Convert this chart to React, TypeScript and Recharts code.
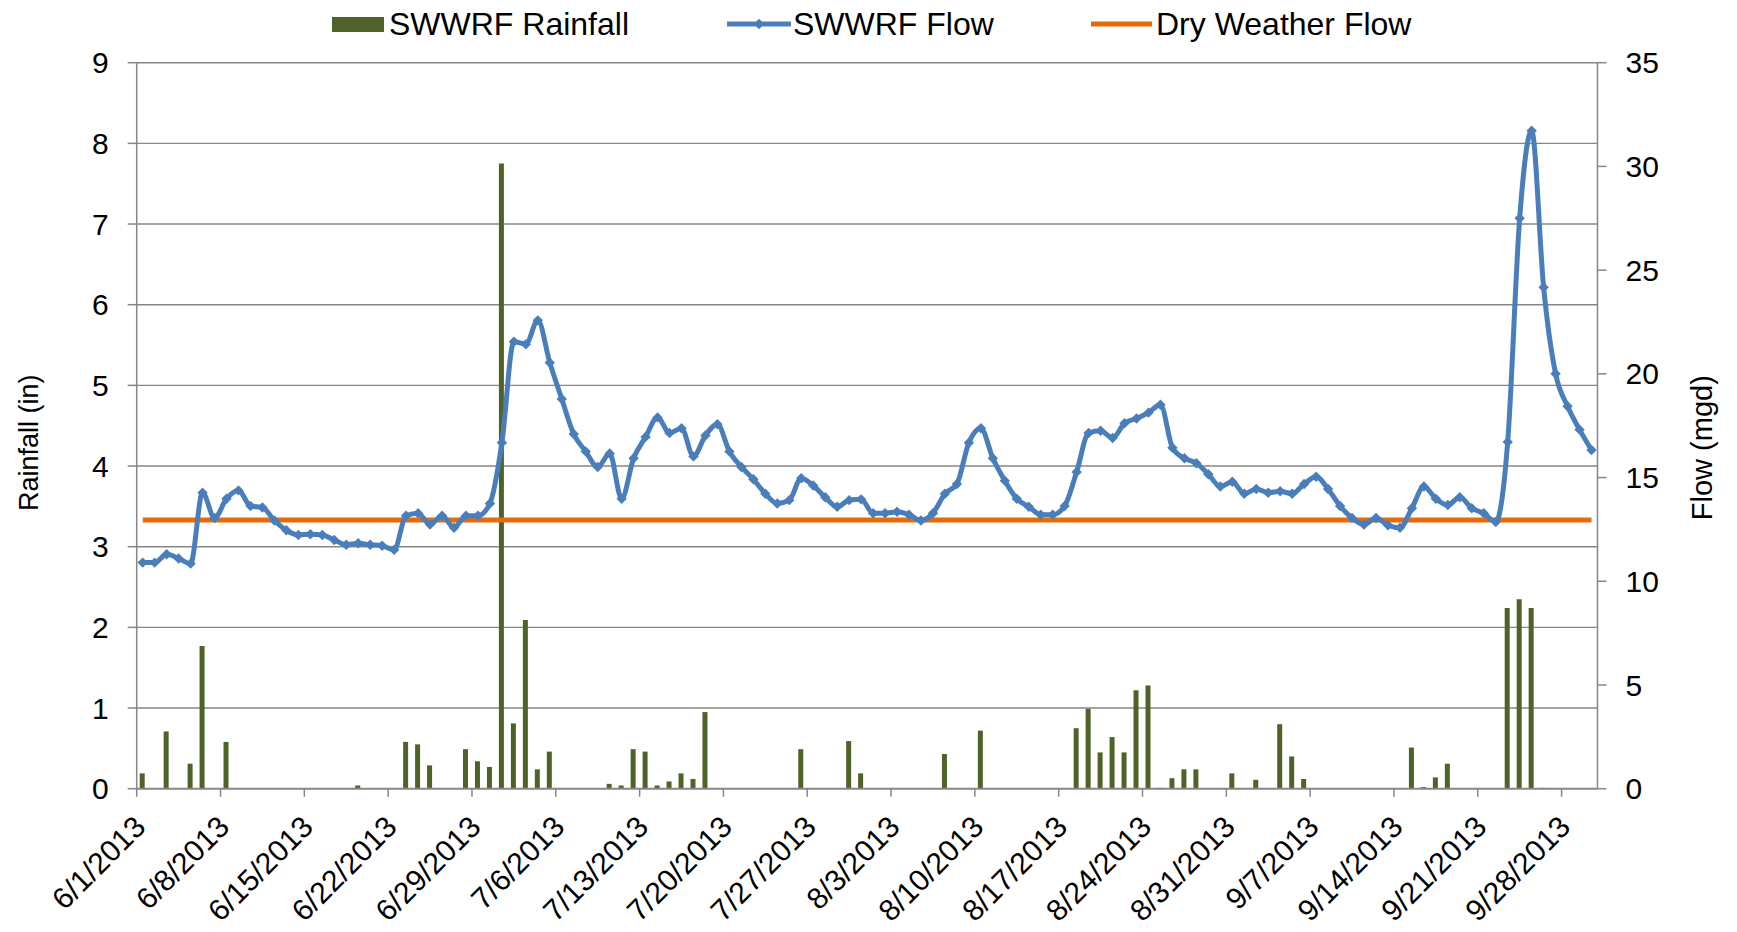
import React from 'react';
import { ComposedChart, Bar, Line, XAxis, YAxis, CartesianGrid, Legend } from 'recharts';

const FONT = '"Liberation Sans", Arial, Helvetica, sans-serif';

// Daily categories 6/1/2013 .. 9/30/2013
const monthLengths = [
  { m: 6, n: 30 },
  { m: 7, n: 31 },
  { m: 8, n: 31 },
  { m: 9, n: 30 },
];
const dates: string[] = [];
monthLengths.forEach(({ m, n }) => {
  for (let d = 1; d <= n; d++) dates.push(`${m}/${d}/2013`);
});

const tickLabels = [
  '6/1/2013', '6/8/2013', '6/15/2013', '6/22/2013', '6/29/2013', '7/6/2013',
  '7/13/2013', '7/20/2013', '7/27/2013', '8/3/2013', '8/10/2013', '8/17/2013',
  '8/24/2013', '8/31/2013', '9/7/2013', '9/14/2013', '9/21/2013', '9/28/2013',
];

// SWWRF Flow (mgd), one value per day
const flow = [
  10.9, 10.9, 11.3, 11.1, 10.85, 14.27, 13.05, 13.98, 14.38, 13.63,
  13.56, 12.93, 12.46, 12.23, 12.27, 12.23, 11.99, 11.76, 11.83, 11.76,
  11.71, 11.52, 13.16, 13.28, 12.74, 13.16, 12.58, 13.16, 13.16, 13.75,
  16.68, 21.55, 21.43, 22.58, 20.54, 18.79, 17.1, 16.26, 15.51, 16.16,
  13.98, 15.93, 16.96, 17.9, 17.15, 17.38, 16.02, 17.03, 17.57, 16.26,
  15.51, 14.92, 14.22, 13.75, 13.91, 14.97, 14.62, 14.05, 13.59, 13.91,
  13.95, 13.28, 13.28, 13.35, 13.21, 12.93, 13.28, 14.22, 14.69, 16.68,
  17.38, 15.93, 14.85, 13.98, 13.59, 13.21, 13.21, 13.63, 15.27, 17.15,
  17.26, 16.91, 17.62, 17.85, 18.13, 18.51, 16.44, 15.93, 15.69, 15.16,
  14.57, 14.8, 14.22, 14.45, 14.27, 14.34, 14.22, 14.69, 15.04, 14.45,
  13.63, 13.05, 12.74, 13.05, 12.7, 12.58, 13.52, 14.57, 13.98, 13.68,
  14.05, 13.52, 13.28, 12.86, 16.72, 27.5, 31.72, 24.17, 20.0, 18.44,
  17.31, 16.33,
];

// SWWRF Rainfall (in), one value per day
const rainfall = [
  0.19, 0, 0.71, 0, 0.31, 1.77, 0, 0.58, 0, 0,
  0, 0, 0, 0, 0, 0, 0, 0, 0.04, 0,
  0, 0, 0.58, 0.55, 0.29, 0, 0, 0.49, 0.34, 0.27,
  7.75, 0.81, 2.09, 0.24, 0.46, 0, 0, 0, 0, 0.06,
  0.04, 0.49, 0.46, 0.04, 0.09, 0.19, 0.12, 0.95, 0, 0,
  0, 0, 0, 0, 0, 0.49, 0, 0, 0, 0.59,
  0.19, 0, 0, 0, 0, 0, 0, 0.43, 0, 0,
  0.72, 0, 0, 0, 0, 0, 0, 0, 0.75, 0.99,
  0.45, 0.64, 0.45, 1.22, 1.28, 0.01, 0.13, 0.24, 0.24, 0,
  0, 0.19, 0, 0.11, 0, 0.8, 0.4, 0.12, 0, 0,
  0, 0, 0, 0, 0, 0, 0.51, 0.02, 0.14, 0.31,
  0, 0, 0, 0, 2.24, 2.35, 2.24, 0.01, 0, 0,
  0, 0,
];

const dryWeatherFlow = 12.95;

const rainTicks = [0, 1, 2, 3, 4, 5, 6, 7, 8, 9];
const flowTicks = [0, 5, 10, 15, 20, 25, 30, 35];

const data = flow.map((f, i) => ({
  x: i + 0.5,
  date: dates[i],
  rain: rainfall[i],
  flow: f,
  dry: dryWeatherFlow,
}));

const xTickValues = tickLabels.map((_, i) => i * 7);

const GREEN = '#4F6228';
const BLUE = '#4A7EBB';
const ORANGE = '#E46C0A';
const GRAY = '#868686';

const XTick = (props: any) => {
  const { x, y, payload } = props;
  const idx = xTickValues.indexOf(payload.value);
  const label = idx >= 0 ? tickLabels[idx] : '';
  const ax = x + 10.5;
  const ay = y + 30;
  return (
    <text
      x={ax}
      y={ay}
      transform={`rotate(-45, ${ax}, ${ay})`}
      textAnchor="end"
      fontSize={30}
      fontFamily={FONT}
      fill="#000"
    >
      {label}
    </text>
  );
};

const Diamond = (p: any) => {
  const { cx, cy, index } = p;
  if (cx == null || cy == null) return <g key={`d-${index}`} />;
  const s = 5.2;
  return (
    <path
      key={`d-${index}`}
      d={`M${cx},${cy - s}L${cx + s},${cy}L${cx},${cy + s}L${cx - s},${cy}Z`}
      fill={BLUE}
      stroke="none"
    />
  );
};

const LegendContent = () => (
  <svg width={1737} height={50} style={{ display: 'block' }}>
    <rect x={332} y={17} width={52} height={15} fill={GREEN} />
    <text x={389} y={35} fontSize={32} fontFamily={FONT} fill="#000">SWWRF Rainfall</text>
    <line x1={727} y1={24} x2={791} y2={24} stroke={BLUE} strokeWidth={5} />
    <path d={`M759,18.8L764.2,24L759,29.2L753.8,24Z`} fill={BLUE} />
    <text x={793} y={35} fontSize={32} fontFamily={FONT} fill="#000">SWWRF Flow</text>
    <line x1={1091} y1={24} x2={1152} y2={24} stroke={ORANGE} strokeWidth={5} />
    <text x={1156} y={35} fontSize={32} fontFamily={FONT} fill="#000">Dry Weather Flow</text>
  </svg>
);

const LeftTitle = (props: any) => {
  const vb = props.viewBox || {};
  const cy = (vb.y ?? 62.7) + (vb.height ?? 726) / 2 + 17;
  const cx = 38;
  return (
    <text
      x={cx}
      y={cy}
      transform={`rotate(-90, ${cx}, ${cy})`}
      textAnchor="middle"
      fontSize={27}
      fontFamily={FONT}
      fill="#000"
    >
      Rainfall (in)
    </text>
  );
};

const RightTitle = (props: any) => {
  const vb = props.viewBox || {};
  const cy = (vb.y ?? 62.7) + (vb.height ?? 726) / 2 + 22;
  const cx = 1712;
  return (
    <text
      x={cx}
      y={cy}
      transform={`rotate(-90, ${cx}, ${cy})`}
      textAnchor="middle"
      fontSize={29}
      fontFamily={FONT}
      fill="#000"
    >
      Flow (mgd)
    </text>
  );
};

export default function App() {
  return (
    <div style={{ position: 'absolute', left: 0, top: 0, width: 1737, height: 932, background: '#fff' }}>
      <ComposedChart
        width={1737}
        height={932}
        data={data}
        margin={{ top: 62.7, right: 0, bottom: 0, left: 0 }}
      >
        <CartesianGrid
          yAxisId="left"
          vertical={false}
          stroke={GRAY}
          strokeWidth={1.4}
        />
        <XAxis
          type="number"
          dataKey="x"
          domain={[0, 122]}
          ticks={xTickValues}
          interval={0}
          height={143.3}
          tickSize={8}
          tickMargin={2}
          axisLine={{ stroke: GRAY, strokeWidth: 1.8 }}
          tickLine={{ stroke: GRAY, strokeWidth: 1.5 }}
          tick={<XTick />}
          allowDecimals={false}
        />
        <YAxis
          yAxisId="left"
          orientation="left"
          domain={[0, 9]}
          ticks={rainTicks}
          interval={0}
          width={136.7}
          tickSize={9}
          tickMargin={19}
          axisLine={{ stroke: GRAY, strokeWidth: 1.5 }}
          tickLine={{ stroke: GRAY, strokeWidth: 1.5 }}
          tick={{ fill: '#000', fontSize: 30, fontFamily: FONT }}
          label={{ content: <LeftTitle /> }}
        />
        <YAxis
          yAxisId="right"
          orientation="right"
          domain={[0, 35]}
          ticks={flowTicks}
          interval={0}
          width={139.5}
          tickSize={9}
          tickMargin={19}
          axisLine={{ stroke: GRAY, strokeWidth: 1.5 }}
          tickLine={{ stroke: GRAY, strokeWidth: 1.5 }}
          tick={{ fill: '#000', fontSize: 30, fontFamily: FONT, textAnchor: 'start' }}
          label={{ content: <RightTitle /> }}
        />
        <Legend
          layout="horizontal"
          verticalAlign="middle"
          align="center"
          wrapperStyle={{ top: 0, left: 0, width: 1737, height: 50 }}
          content={<LegendContent />}
        />
        <Bar
          yAxisId="left"
          dataKey="rain"
          name="SWWRF Rainfall"
          fill={GREEN}
          barSize={5}
          isAnimationActive={false}
        />
        <Line
          yAxisId="right"
          dataKey="dry"
          name="Dry Weather Flow"
          stroke={ORANGE}
          strokeWidth={5}
          dot={false}
          activeDot={false}
          type="linear"
          isAnimationActive={false}
        />
        <Line
          yAxisId="right"
          dataKey="flow"
          name="SWWRF Flow"
          stroke={BLUE}
          strokeWidth={5}
          dot={<Diamond />}
          activeDot={false}
          type="monotone"
          isAnimationActive={false}
        />
      </ComposedChart>
    </div>
  );
}
